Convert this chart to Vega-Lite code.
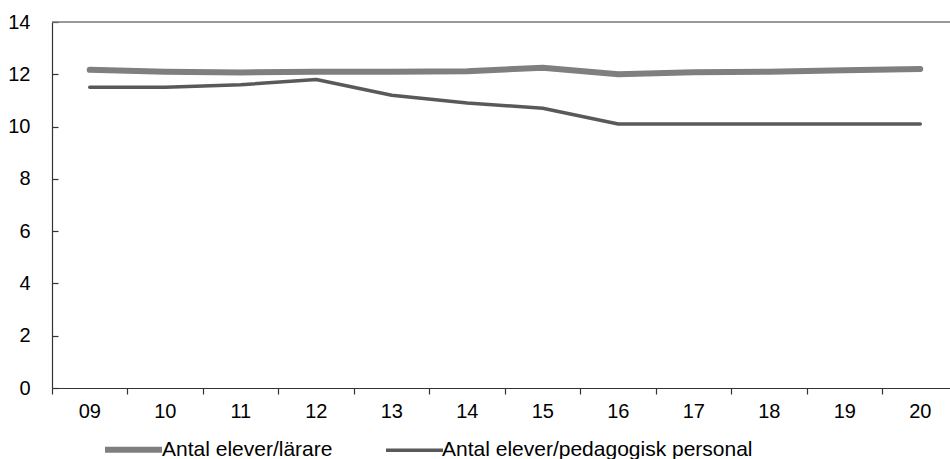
{
  "$schema": "https://vega.github.io/schema/vega-lite/v6.json",
  "autosize": {"type": "none"},
  "padding": {"left": 52, "top": 22, "right": 0, "bottom": 71},
  "width": 906,
  "height": 366,
  "background": "white",
  "config": {
    "view": {"stroke": null},
    "font": "Liberation Sans",
    "axis": {"labelFont": "Liberation Sans", "labelColor": "#000", "labelFontSize": 20, "grid": false, "domainColor": "#333", "tickColor": "#333", "domainWidth": 1.2, "tickWidth": 1.2}
  },
  "datasets": {
    "rows": [
      {"year": "09", "series": "Antal elever/lärare", "value": 12.17},
      {"year": "10", "series": "Antal elever/lärare", "value": 12.1},
      {"year": "11", "series": "Antal elever/lärare", "value": 12.07},
      {"year": "12", "series": "Antal elever/lärare", "value": 12.1},
      {"year": "13", "series": "Antal elever/lärare", "value": 12.1},
      {"year": "14", "series": "Antal elever/lärare", "value": 12.12},
      {"year": "15", "series": "Antal elever/lärare", "value": 12.25},
      {"year": "16", "series": "Antal elever/lärare", "value": 12.0},
      {"year": "17", "series": "Antal elever/lärare", "value": 12.08},
      {"year": "18", "series": "Antal elever/lärare", "value": 12.1},
      {"year": "19", "series": "Antal elever/lärare", "value": 12.15},
      {"year": "20", "series": "Antal elever/lärare", "value": 12.2},
      {"year": "09", "series": "Antal elever/pedagogisk personal", "value": 11.5},
      {"year": "10", "series": "Antal elever/pedagogisk personal", "value": 11.5},
      {"year": "11", "series": "Antal elever/pedagogisk personal", "value": 11.6},
      {"year": "12", "series": "Antal elever/pedagogisk personal", "value": 11.8},
      {"year": "13", "series": "Antal elever/pedagogisk personal", "value": 11.2},
      {"year": "14", "series": "Antal elever/pedagogisk personal", "value": 10.9},
      {"year": "15", "series": "Antal elever/pedagogisk personal", "value": 10.7},
      {"year": "16", "series": "Antal elever/pedagogisk personal", "value": 10.1},
      {"year": "17", "series": "Antal elever/pedagogisk personal", "value": 10.1},
      {"year": "18", "series": "Antal elever/pedagogisk personal", "value": 10.1},
      {"year": "19", "series": "Antal elever/pedagogisk personal", "value": 10.1},
      {"year": "20", "series": "Antal elever/pedagogisk personal", "value": 10.1}
    ],
    "top": [{"v": 14}]
  },
  "layer": [
    {
      "data": {"name": "top"},
      "mark": {"type": "rule", "color": "#777", "strokeWidth": 1.5},
      "encoding": {"y": {"field": "v", "type": "quantitative"}}
    },
    {
      "data": {"name": "rows"},
      "mark": {"type": "line", "strokeCap": "round", "strokeJoin": "round"},
      "encoding": {
        "x": {
          "field": "year", "type": "ordinal", "title": null,
          "scale": {"type": "band", "paddingInner": 0, "paddingOuter": 0},
          "axis": {"bandPosition": 0, "labelAngle": 0, "tickSize": 6, "labelPadding": 7}
        },
        "y": {
          "field": "value", "type": "quantitative", "title": null,
          "scale": {"domain": [0, 14], "nice": false},
          "axis": {"values": [0, 2, 4, 6, 8, 10, 12, 14], "tickSize": -6, "labelPadding": 28}
        },
        "color": {
          "field": "series", "type": "nominal", "title": null,
          "scale": {"domain": ["Antal elever/lärare", "Antal elever/pedagogisk personal"], "range": ["#7f7f7f", "#595959"]},
          "legend": {
            "orient": "none", "direction": "horizontal", "legendX": 50, "legendY": 396,
            "symbolType": "stroke", "symbolSize": 3249, "labelFontSize": 21, "labelFont": "Liberation Sans",
            "labelColor": "#000", "labelOffset": -3, "labelLimit": 0, "columnPadding": 46, "symbolOffset": 0, "padding": 0
          }
        },
        "strokeWidth": {
          "field": "series", "type": "nominal", "title": null,
          "scale": {"domain": ["Antal elever/lärare", "Antal elever/pedagogisk personal"], "range": [6, 3.5]},
          "legend": null
        }
      }
    }
  ]
}
